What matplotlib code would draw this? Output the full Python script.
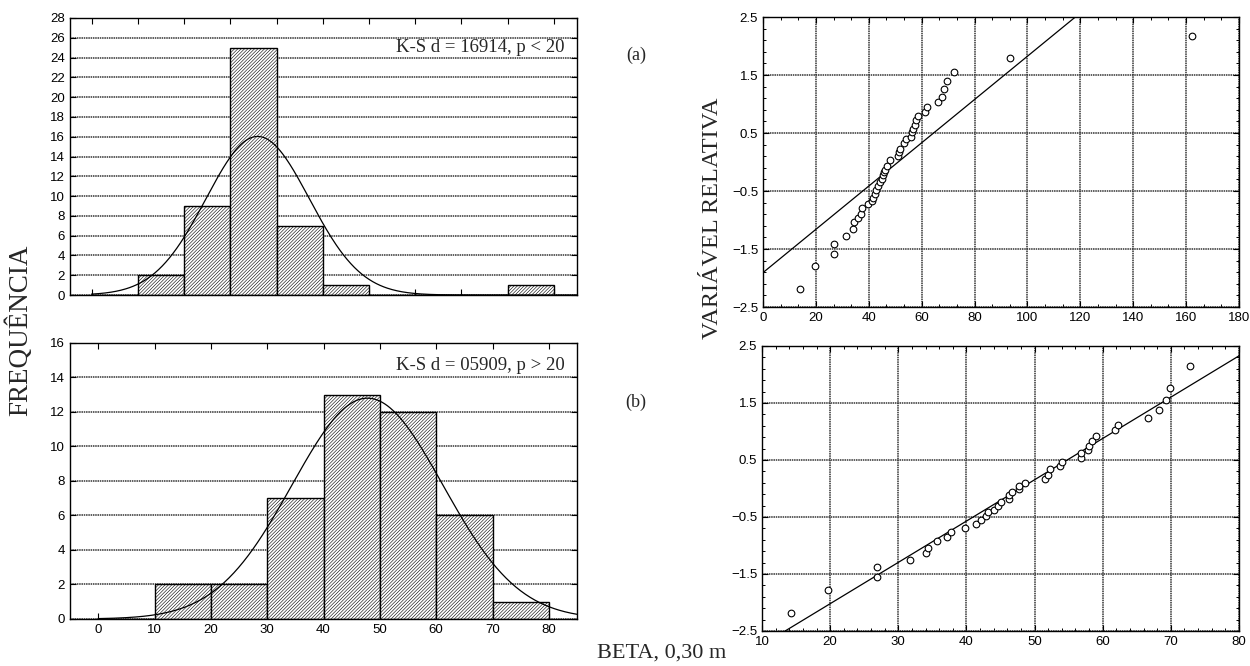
import numpy as np
import matplotlib
matplotlib.use("Agg")
import matplotlib.pyplot as plt
from matplotlib.ticker import AutoMinorLocator, MultipleLocator

# histogram (a): class index on x, no labels in the source
bins_a = [0, 1, 2, 3, 4, 5, 6, 7, 8, 9]
counts_a = [0, 2, 9, 25, 7, 1, 0, 0, 0, 1]
mu_a, sd_a = 3.59, 1.12

# histogram (b): BETA classes, width 10
bins_b = [0, 10, 20, 30, 40, 50, 60, 70]
counts_b = [0, 2, 2, 7, 13, 12, 6, 1]
mu_b, sd_b = 47.8, 13.4

# normal probability plot (a)
qq_a_x = [14.0, 19.6, 26.75, 26.75, 31.5, 33.9, 34.25, 35.9, 37.1, 37.5, 39.6,
          41.1, 41.75, 42.4, 42.75, 43.4, 44.25, 45.0, 45.25, 45.6, 46.1, 46.9,
          48.1, 51.1, 51.5, 51.75, 53.5, 54.0, 56.1, 56.5, 56.9, 57.5, 58.0,
          58.6, 61.25, 61.9, 66.1, 67.75, 68.6, 69.6, 72.4, 93.25, 162.4]
qq_a_z = [-2.19, -1.80, -1.41, -1.58, -1.28, -1.16, -1.04, -0.97, -0.90, -0.80,
          -0.72, -0.68, -0.62, -0.55, -0.49, -0.41, -0.35, -0.29, -0.23, -0.18,
          -0.13, -0.06, 0.04, 0.10, 0.17, 0.23, 0.32, 0.39, 0.44, 0.51, 0.57,
          0.64, 0.72, 0.79, 0.87, 0.95, 1.04, 1.13, 1.26, 1.40, 1.56, 1.79, 2.18]
line_a_mu, line_a_sd = 51.1, 26.8

# normal probability plot (b)
qq_b_x = [14.2, 19.7, 26.9, 26.9, 31.65, 34.0, 34.4, 35.7, 37.1, 37.8, 39.8,
          41.4, 42.1, 42.8, 43.2, 44.1, 44.6, 45.1, 46.2, 46.2, 46.7, 47.7,
          47.7, 48.6, 51.6, 52.0, 52.3, 53.7, 54.0, 56.8, 56.8, 57.8, 57.95,
          58.4, 59.0, 61.75, 62.3, 66.7, 68.2, 69.3, 69.9, 72.8]
qq_b_z = [-2.18, -1.78, -1.38, -1.56, -1.25, -1.14, -1.04, -0.93, -0.85, -0.77,
          -0.69, -0.63, -0.56, -0.48, -0.42, -0.38, -0.31, -0.24, -0.18, -0.11,
          -0.06, -0.01, 0.05, 0.10, 0.17, 0.24, 0.34, 0.40, 0.47, 0.53, 0.62,
          0.68, 0.75, 0.84, 0.92, 1.03, 1.11, 1.24, 1.37, 1.55, 1.77, 2.15]
line_b_mu, line_b_sd = 47.9, 13.8

plt.rcParams['hatch.linewidth'] = 0.4
plt.rcParams['hatch.color'] = '0.2'
tick_font = 'Liberation Sans'
serif = 'Liberation Serif'

fig = plt.figure(figsize=(12.5, 6.66), dpi=100)

grid_kw = dict(color='0.2', linestyle=(0, (1, 0.5)), linewidth=1.1)


def style_axes(ax):
    for s in ax.spines.values():
        s.set_linewidth(1.0)
    ax.tick_params(direction='in', top=True, right=True, length=4, width=0.8,
                   labelsize=9.5)
    ax.tick_params(which='minor', direction='in', top=True, right=True,
                   length=2.5, width=0.7)
    for lab in ax.get_xticklabels() + ax.get_yticklabels():
        lab.set_fontfamily(tick_font)
    ax.set_axisbelow(True)


def hist_panel(ax, bins, counts, width, mu, sd, xlim, ylim, ystep):
    ax.bar(bins, counts, width=width, align='edge', facecolor='white',
           edgecolor='black', linewidth=1.0, hatch='//////////', zorder=2)
    N = sum(counts)
    xs = np.linspace(bins[0], xlim[1], 400)
    ys = N * width / (sd * np.sqrt(2 * np.pi)) * np.exp(-0.5 * ((xs - mu) / sd) ** 2)
    ax.plot(xs, ys, color='black', linewidth=0.9, zorder=3)
    ax.set_xlim(*xlim)
    ax.set_ylim(*ylim)
    ax.yaxis.set_major_locator(MultipleLocator(ystep))
    ax.yaxis.grid(True, **grid_kw)


# (a) histogram
ax1 = fig.add_axes([0.056, 0.557, 0.4056, 0.416])
hist_panel(ax1, bins_a, counts_a, 1, mu_a, sd_a, (-0.47, 10.5), (0, 28), 2)
ax1.set_xticks(np.arange(0, 11))
ax1.set_xticklabels([])
style_axes(ax1)
ax1.text(0.975, 25, 'K-S d = 16914, p < 20', transform=ax1.get_yaxis_transform(),
         ha='right', va='center', fontsize=13.5, family=serif, color='0.15')

# (b) histogram
ax2 = fig.add_axes([0.056, 0.0706, 0.4056, 0.4144])
hist_panel(ax2, bins_b, counts_b, 10, mu_b, sd_b, (-5, 85), (0, 16), 2)
ax2.set_xticks(np.arange(0, 90, 10))
style_axes(ax2)
ax2.text(0.975, 14.7, 'K-S d = 05909, p > 20', transform=ax2.get_yaxis_transform(),
         ha='right', va='center', fontsize=13.5, family=serif, color='0.15')


def qq_panel(ax, xs, zs, mu, sd, xlim, xstep, xminor):
    ax.plot(xs, zs, linestyle='none', marker='o', markersize=4.8,
            markerfacecolor='white', markeredgecolor='black',
            markeredgewidth=0.8, zorder=3)
    lx = np.array(xlim, dtype=float)
    ax.plot(lx, (lx - mu) / sd, color='black', linewidth=0.9, zorder=2)
    ax.set_xlim(*xlim)
    ax.set_ylim(-2.5, 2.5)
    ax.xaxis.set_major_locator(MultipleLocator(xstep))
    ax.set_yticks([-2.5, -1.5, -0.5, 0.5, 1.5, 2.5])
    ax.xaxis.set_minor_locator(AutoMinorLocator(xminor))
    ax.yaxis.set_minor_locator(AutoMinorLocator(5))
    ax.grid(True, which='major', **grid_kw)
    style_axes(ax)


ax3 = fig.add_axes([0.6104, 0.539, 0.3808, 0.4354])
qq_panel(ax3, qq_a_x, qq_a_z, line_a_mu, line_a_sd, (0, 180), 20, 3)

ax4 = fig.add_axes([0.6096, 0.0526, 0.3816, 0.428])
qq_panel(ax4, qq_b_x, qq_b_z, line_b_mu, line_b_sd, (10, 80), 10, 5)

# panel tags and axis titles
fig.text(636 / 1250, 1 - 55 / 666, '(a)', ha='center', va='center',
         fontsize=13, family=serif, color='0.15')
fig.text(636 / 1250, 1 - 402 / 666, '(b)', ha='center', va='center',
         fontsize=13, family=serif, color='0.15')
fig.text(20 / 1250, 1 - 330 / 666, 'FREQUÊNCIA', rotation=90, ha='center',
         va='center', fontsize=19.5, family=serif, color='0.15')
fig.text(712 / 1250, 1 - 218 / 666, 'VARIÁVEL RELATIVA', rotation=90,
         ha='center', va='center', fontsize=17.5, family=serif, color='0.15')
fig.text(662 / 1250, 1 - 653 / 666, 'BETA, 0,30 m', ha='center', va='center',
         fontsize=16, family=serif, color='0.15')

fig.savefig('out.png', dpi=100)
